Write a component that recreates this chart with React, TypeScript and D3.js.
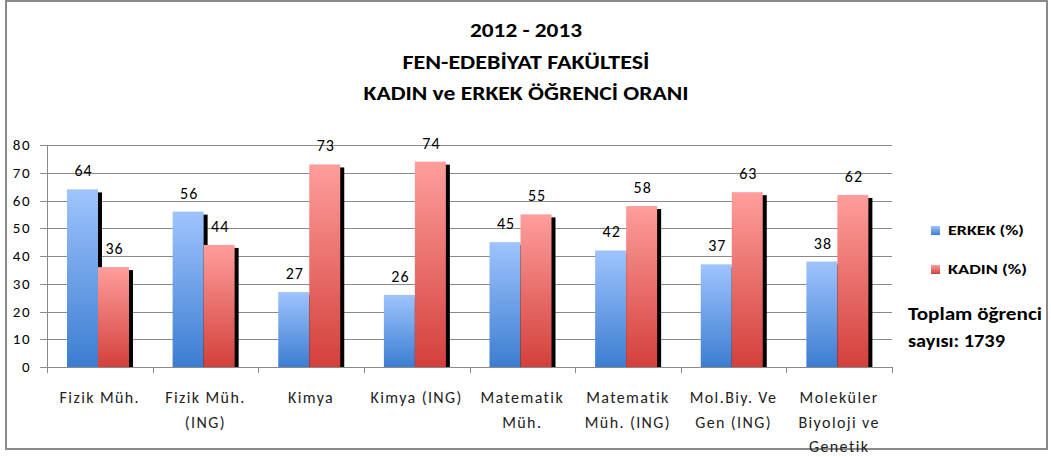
import * as d3 from "d3";
import React from "react";

const categories = [
  ["Fizik Müh."],
  ["Fizik Müh.", "(ING)"],
  ["Kimya"],
  ["Kimya (ING)"],
  ["Matematik", "Müh."],
  ["Matematik", "Müh. (ING)"],
  ["Mol.Biy. Ve", "Gen (ING)"],
  ["Moleküler", "Biyoloji ve", "Genetik"],
];
const erkek = [64, 56, 27, 26, 45, 42, 37, 38];
const kadin = [36, 44, 73, 74, 55, 58, 63, 62];
const yTicks = [0, 10, 20, 30, 40, 50, 60, 70, 80];
const titleLines = ["2012 - 2013", "FEN-EDEBİYAT FAKÜLTESİ", "KADIN ve ERKEK ÖĞRENCİ ORANI"];
const titleWidths = [112, 247, 325];

const W = 1051;
const H = 457;
const font = "Carlito, Calibri, Lato, sans-serif";

export default function App() {
  const keys = categories.map((c, i) => String(i));
  const x0 = d3.scaleBand().domain(keys).range([47, 892]);
  const x1 = d3.scaleBand().domain(["erkek", "kadin"]).range([20, 82]);
  const y = d3.scaleLinear().domain([0, 80]).range([367, 145]);

  const series = [
    { key: "erkek", values: erkek, grad: "gBlue" },
    { key: "kadin", values: kadin, grad: "gRed" },
  ];

  return (
    <svg width={W} height={H} style={{ position: "absolute", left: 0, top: 0 }}>
      <defs>
        <linearGradient id="gBlue" x1="0" y1="0" x2="0" y2="1">
          <stop offset="0%" stopColor="#9fc4fd" />
          <stop offset="100%" stopColor="#3c7dd1" />
        </linearGradient>
        <linearGradient id="gRed" x1="0" y1="0" x2="0" y2="1">
          <stop offset="0%" stopColor="#fe9e9c" />
          <stop offset="100%" stopColor="#d3403b" />
        </linearGradient>
      </defs>
      <rect x={0} y={0} width={W} height={H} fill="#fff" />
      <rect x={6} y={1} width={1041} height={448} fill="#fff" stroke="#8a8a8a" strokeWidth={2} />

      {titleLines.map((t, i) => (
        <text key={t} x={526} y={37 + i * 31.5} textAnchor="middle" fontFamily={font} fontWeight="bold" fontSize={21}
          fill="#000" textLength={titleWidths[i]} lengthAdjust="spacingAndGlyphs">
          {t}
        </text>
      ))}

      {/* gridlines and y ticks */}
      {yTicks.map((t) => (
        <g key={t}>
          <line x1={40} x2={892} y1={Math.round(y(t)) + 0.5} y2={Math.round(y(t)) + 0.5} stroke="#8a8a8a" strokeWidth={1} />
          <text x={31} y={y(t) + 5} textAnchor="end" fontFamily={font} fontSize={15} fill="#000" letterSpacing={1.5}>
            {t}
          </text>
        </g>
      ))}
      <line x1={47.5} x2={47.5} y1={y(80)} y2={y(0)} stroke="#8a8a8a" />
      {keys.concat("end").map((k, i) => {
        const xx = i < keys.length ? (x0(k) as number) : 892;
        return <line key={k} x1={Math.round(xx) + 0.5} x2={Math.round(xx) + 0.5} y1={367} y2={373} stroke="#8a8a8a" />;
      })}

      {/* bars */}
      {keys.map((k, i) => (
        <g key={k} transform={`translate(${x0(k)},0)`}>
          {series.map((s) => {
            const bx = x1(s.key) as number;
            const bw = x1.bandwidth();
            const top = y(s.values[i]);
            return (
              <g key={s.key}>
                <rect x={bx + 4} y={top + 3} width={bw} height={y(0) - top - 3} fill="#000" />
                <rect x={bx} y={top} width={bw} height={y(0) - top} fill={`url(#${s.grad})`} />
              </g>
            );
          })}
          {series.map((s) => {
            const bx = x1(s.key) as number;
            const bw = x1.bandwidth();
            return (
              <text key={s.key + "l"} x={bx + bw / 2 + 1} y={y(s.values[i]) - 13} textAnchor="middle" fontFamily={font} fontSize={16} fill="#000" letterSpacing={1}>
                {d3.format("d")(s.values[i])}
              </text>
            );
          })}
        </g>
      ))}

      {/* category labels */}
      {keys.map((k, i) => (
        <text key={k} textAnchor="middle" fontFamily={font} fontSize={16} fill="#222" letterSpacing={1.4}>
          {categories[i].map((line, j) => (
            <tspan key={j} x={(x0(k) as number) + x0.bandwidth() / 2} y={403 + j * 24.5}>
              {line}
            </tspan>
          ))}
        </text>
      ))}

      {/* legend */}
      <rect x={931} y={226} width={9} height={9} fill="url(#gBlue)" />
      <text x={948} y={235} fontFamily={font} fontWeight="bold" fontSize={14} fill="#000" textLength={76} lengthAdjust="spacingAndGlyphs">ERKEK (%)</text>
      <rect x={931} y={265} width={9} height={9} fill="url(#gRed)" />
      <text x={948} y={274} fontFamily={font} fontWeight="bold" fontSize={14} fill="#000" textLength={79} lengthAdjust="spacingAndGlyphs">KADIN (%)</text>

      <text x={908} y={320} fontFamily={font} fontWeight="bold" fontSize={18} fill="#000" textLength={134} lengthAdjust="spacingAndGlyphs">Toplam öğrenci</text>
      <text x={908} y={347} fontFamily={font} fontWeight="bold" fontSize={18} fill="#000" textLength={97} lengthAdjust="spacingAndGlyphs">sayısı: 1739</text>
    </svg>
  );
}
